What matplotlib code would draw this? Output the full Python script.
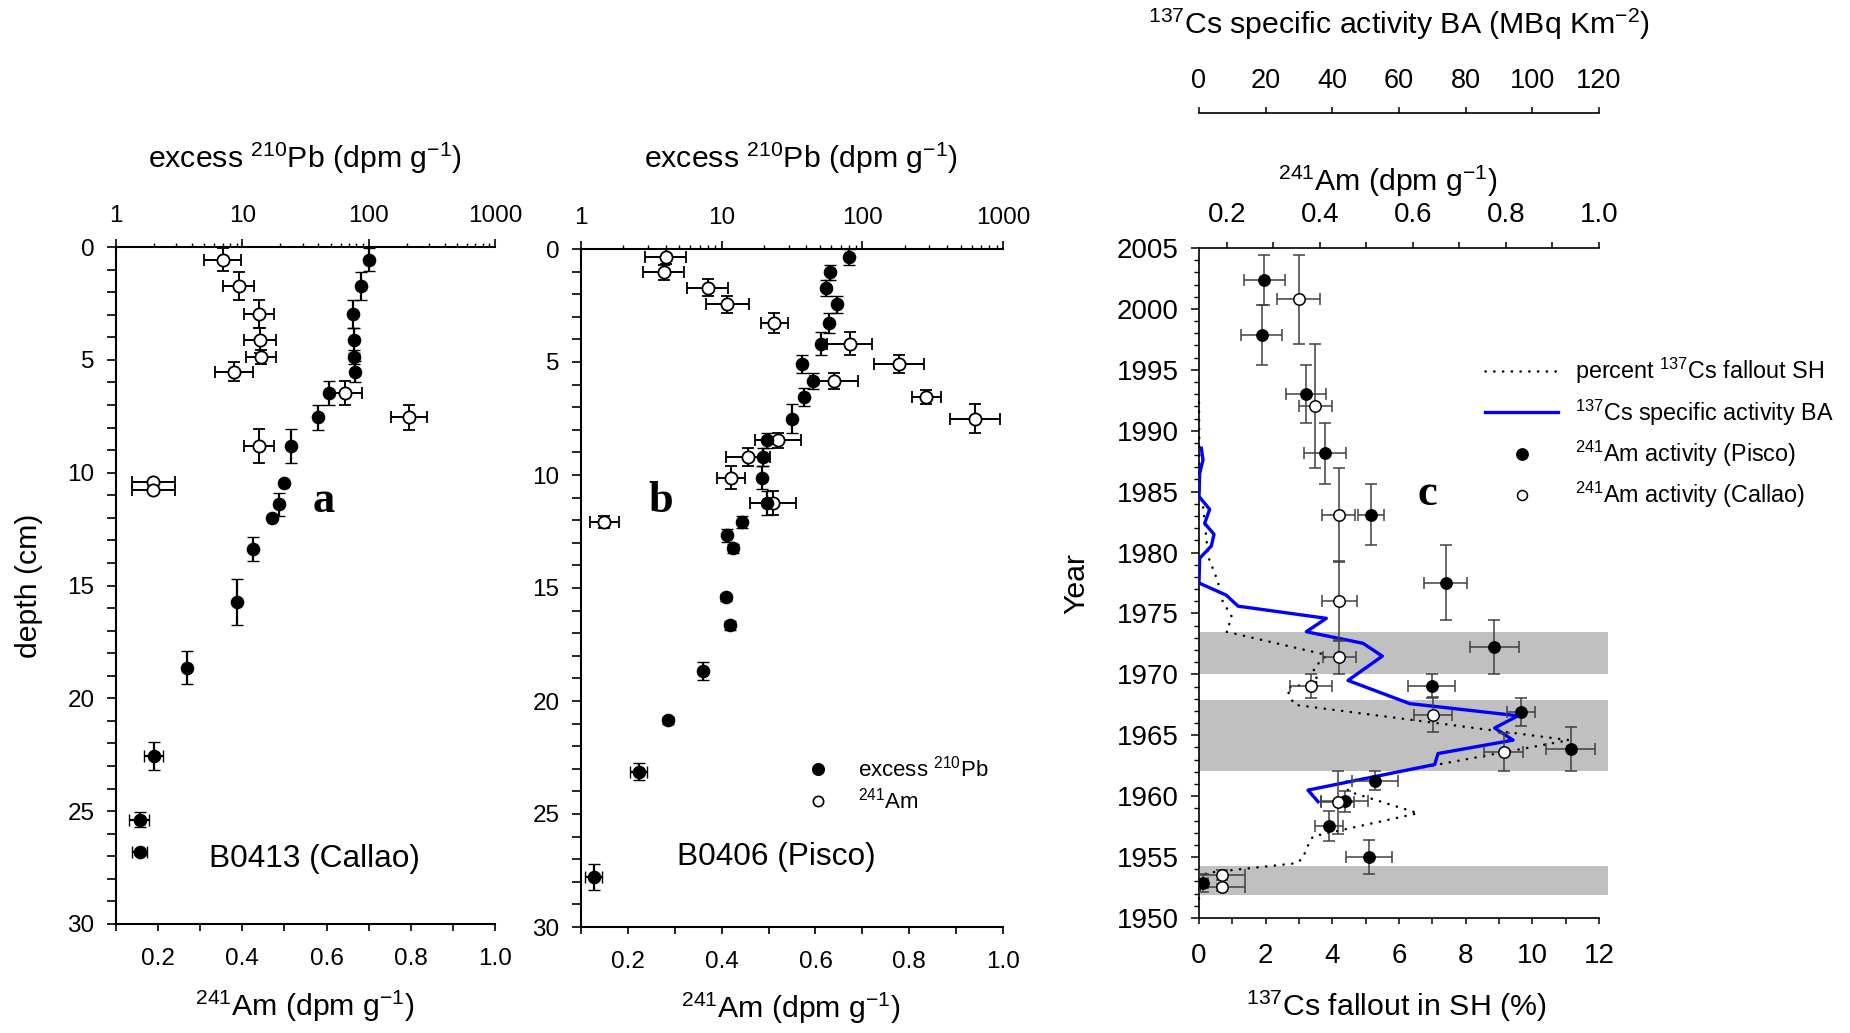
import matplotlib
matplotlib.use('Agg')
import matplotlib.pyplot as plt
from matplotlib.lines import Line2D
from matplotlib.ticker import MultipleLocator, LogLocator, NullFormatter, FixedLocator, FuncFormatter, FormatStrFormatter

plt.rcParams['font.family'] = ['Liberation Sans', 'DejaVu Sans']
plt.rcParams['mathtext.fontset'] = 'custom'
plt.rcParams['mathtext.rm'] = 'Liberation Sans'
plt.rcParams['mathtext.it'] = 'Liberation Sans:italic'
plt.rcParams['mathtext.bf'] = 'Liberation Sans:bold'

# ---------------- data: panel a (B0413, Callao) ----------------
pb_a_depth = [0.56, 1.74, 2.98, 4.13, 4.87, 5.52, 6.47, 7.55, 8.82, 10.48, 11.4, 12.0, 13.39, 15.73, 18.64, 22.55, 25.37, 26.83]
pb_a = [100, 87, 75.7, 77, 76, 78, 48.9, 40, 24.4, 21.2, 19.5, 17.1, 12.1, 9.1, 3.64, 2.01, 1.556, 1.55]
pb_a_derr = [0.52, 0.62, 0.62, 0.55, 0.3, 0.45, 0.52, 0.55, 0.74, 0.0, 0.5, 0.0, 0.53, 1.03, 0.72, 0.61, 0.34, 0.1]
pb_a_err = [0, 0, 0, 0, 0, 0, 0, 0, 0, 0, 0, 0, 0, 0, 0, 0.33, 0.28, 0.21]
am_a_depth = [0.56, 1.74, 2.98, 4.13, 4.87, 5.52, 6.47, 7.55, 8.82, 10.41, 10.78]
am_a = [0.354, 0.391, 0.44, 0.442, 0.444, 0.38, 0.643, 0.796, 0.44, 0.188, 0.188]
am_a_err = [0.044, 0.036, 0.036, 0.0375, 0.035, 0.045, 0.040, 0.042, 0.035, 0.051, 0.051]
am_a_derr = [0.52, 0.62, 0.62, 0.55, 0.3, 0.43, 0.52, 0.55, 0.74, 0.0, 0.0]

# ---------------- data: panel b (B0406, Pisco) ----------------
pb_b_depth = [0.35, 1.03, 1.71, 2.45, 3.27, 4.19, 5.07, 5.84, 6.55, 7.51, 8.47, 9.2, 10.12, 11.24, 12.07, 12.67, 13.25, 15.42, 16.65, 18.69, 20.86, 23.13, 27.8]
pb_b = [81, 59, 55, 66.5, 58.3, 50.7, 37.1, 44.5, 38.6, 31.8, 20.9, 19.8, 19.2, 20.9, 13.9, 10.9, 12.1, 10.7, 11.5, 7.41, 4.14, 2.59, 1.24]
pb_b_derr = [0.34, 0.33, 0.35, 0.38, 0.43, 0.5, 0.4, 0.37, 0.38, 0.63, 0.33, 0.4, 0.52, 0.55, 0.26, 0.3, 0.2, 0.15, 0.2, 0.4, 0.15, 0.37, 0.58]
pb_b_err = [0, 0, 0, 0, 0, 0, 0, 0, 0, 0, 0, 0, 0, 0, 0, 0, 0, 0, 0, 0, 0, 0.37, 0.18]
am_b_depth = [0.35, 1.03, 1.71, 2.45, 3.27, 4.19, 5.07, 5.84, 6.55, 7.51, 8.47, 9.2, 10.12, 11.24, 12.07]
am_b = [0.281, 0.276, 0.37, 0.412, 0.512, 0.673, 0.779, 0.64, 0.836, 0.941, 0.52, 0.456, 0.42, 0.509, 0.15]
am_b_err = [0.0435, 0.0446, 0.044, 0.0456, 0.029, 0.048, 0.0535, 0.051, 0.031, 0.053, 0.049, 0.047, 0.030, 0.0495, 0.030]
am_b_derr = [0.33, 0.33, 0.37, 0.37, 0.43, 0.5, 0.4, 0.37, 0.33, 0.63, 0.33, 0.4, 0.52, 0.55, 0.26]

# ---------------- data: panel c ----------------
pisco_year = [2002.38, 1997.87, 1993.0, 1988.15, 1983.11, 1977.53, 1972.27, 1969.07, 1966.91, 1963.87, 1961.27, 1959.6, 1957.55, 1954.98, 1952.85]
pisco_am = [0.28, 0.275, 0.37, 0.41, 0.51, 0.67, 0.775, 0.64, 0.833, 0.939, 0.519, 0.453, 0.419, 0.506, 0.149]
pisco_am_err = [0.044, 0.044, 0.044, 0.045, 0.028, 0.046, 0.052, 0.051, 0.030, 0.052, 0.049, 0.051, 0.030, 0.049, 0.01]
pisco_yr_err = [2.05, 2.49, 2.37, 2.49, 2.53, 3.05, 2.22, 1.0, 1.16, 1.83, 0.79, 0.86, 1.2, 1.4, 0.75]

callao_year = [2000.8, 1992.06, 1983.09, 1976.03, 1971.4, 1969.07, 1966.67, 1963.63, 1959.5, 1953.53, 1952.52]
callao_am = [0.354, 0.39, 0.44, 0.442, 0.442, 0.3815, 0.643, 0.795, 0.438, 0.189, 0.189]
callao_am_err = [0.046, 0.036, 0.036, 0.037, 0.035, 0.045, 0.040, 0.042, 0.036, 0.05, 0.05]
callao_yr_err = [3.65, 5.1, 3.83, 3.25, 1.37, 1.0, 1.44, 1.56, 2.6, 0.4, 0.3]

fall_year = [1992.3, 1985.0, 1983.8, 1981.2, 1979.7, 1977.6, 1976.2, 1974.7, 1973.5, 1971.6, 1971.2, 1970.6,
             1970.0, 1969.4, 1968.9, 1968.2, 1967.5, 1964.6, 1961.2, 1960.4, 1958.6, 1956.7, 1955.7, 1954.9,
             1954.5, 1953.7, 1952.85, 1951.6]
fall_pct = [0.0, 0.02, 0.12, 0.22, 0.27, 0.57, 0.67, 0.99, 0.82, 3.82, 3.72, 3.45,
            3.44, 3.62, 2.64, 2.72, 2.87, 11.1, 4.42, 4.47, 6.57, 3.42, 3.22, 3.12,
            2.92, 0.22, 0.04, 0.0]

ba_year = [1988.56, 1987.6, 1986.5, 1984.6, 1983.55, 1982.4, 1981.5, 1980.54, 1979.53, 1977.5, 1976.5, 1975.6,
           1974.6, 1973.5, 1972.55, 1971.5, 1969.5, 1967.6, 1966.6, 1965.6, 1964.6, 1963.5, 1962.6, 1960.5, 1959.55]
ba_act = [0.7, 1.2, 0.2, 0.0, 3.2, 1.7, 4.5, 3.7, 0.2, 0.0, 8.2, 11.7,
          38.2, 32.2, 49.2, 55.0, 44.7, 63.2, 95.7, 88.7, 94.2, 71.7, 70.7, 32.7, 35.7]

band_lo = [1970.0, 1962.07, 1951.86]
band_hi = [1973.45, 1967.9, 1954.3]

depth_ticks = [0, 5, 10, 15, 20, 25, 30]
year_ticks = [1950, 1955, 1960, 1965, 1970, 1975, 1980, 1985, 1990, 1995, 2000, 2005]

# ---------------- figure ----------------
W, H = 1850, 1033
fig = plt.figure(figsize=(W / 100, H / 100), dpi=100)


def box(l, t, r, b):
    return [l / W, 1 - b / H, (r - l) / W, (b - t) / H]


def ftext(x, y, s, **kw):
    fig.text(x / W, 1 - y / H, s, **kw)


TICK = 17.5
LAB = 21.8
SPW = 1.5


def depth_panel(rect, pb_d, pb, pb_derr, pb_err, am_d, am, am_derr, am_err):
    ax = fig.add_axes(rect)
    ax.set_xlim(0.1, 1.0)
    ax.set_ylim(30, 0)
    axt = ax.twiny()
    axt.set_xscale('log')
    axt.set_xlim(1, 1000)
    axt.set_ylim(30, 0)
    for a in (ax, axt):
        for s in a.spines.values():
            s.set_linewidth(SPW)
        a.spines['right'].set_visible(False)
    ax.spines['top'].set_visible(False)
    for s in ('bottom', 'left', 'right'):
        axt.spines[s].set_visible(False)
    ax.yaxis.set_major_locator(FixedLocator(depth_ticks))
    ax.yaxis.set_minor_locator(MultipleLocator(1))
    ax.xaxis.set_major_locator(FixedLocator([0.2, 0.4, 0.6, 0.8, 1.0]))
    ax.xaxis.set_major_formatter(FormatStrFormatter('%.1f'))
    ax.xaxis.set_minor_locator(FixedLocator([0.1, 0.3, 0.5, 0.7, 0.9]))
    ax.tick_params(axis='y', which='both', direction='out', length=6.5, width=1.2, labelsize=TICK, pad=9, right=False)
    ax.tick_params(axis='x', which='both', direction='out', length=5, width=1.2, labelsize=TICK, pad=12, top=False)
    axt.xaxis.set_major_locator(LogLocator(base=10, numticks=10))
    axt.xaxis.set_minor_locator(LogLocator(base=10, subs=range(2, 10), numticks=20))
    axt.xaxis.set_minor_formatter(NullFormatter())
    axt.xaxis.set_major_formatter(FuncFormatter(lambda v, p: f'{v:g}'))
    axt.tick_params(axis='x', which='major', direction='out', length=5.5, width=1.2, labelsize=TICK, pad=9)
    axt.tick_params(axis='x', which='minor', direction='out', length=3.2, width=1.0)
    ax.errorbar(am, am_d, xerr=am_err, yerr=am_derr, fmt='o', mfc='white', mec='black', ms=8.8, mew=1.3,
                ecolor='black', elinewidth=1.4, capsize=4, capthick=1.4, zorder=3)
    axt.errorbar(pb, pb_d, xerr=pb_err, yerr=pb_derr, fmt='o', mfc='black', mec='black', ms=8.8, mew=1.0,
                 ecolor='black', elinewidth=1.6, capsize=4, capthick=1.6, zorder=3)
    return ax, axt


axa, axat = depth_panel(box(116, 247, 495, 924), pb_a_depth, pb_a, pb_a_derr, pb_a_err,
                        am_a_depth, am_a, am_a_derr, am_a_err)
axb, axbt = depth_panel(box(581, 249, 1003, 927), pb_b_depth, pb_b, pb_b_derr, pb_b_err,
                        am_b_depth, am_b, am_b_derr, am_b_err)

pb_title = r'excess $^{210}$Pb (dpm g$^{-1}$)'
am_title = r'$^{241}$Am (dpm g$^{-1}$)'
ftext(305, 158, pb_title, ha='center', va='center', fontsize=LAB)
ftext(801, 158, pb_title, ha='center', va='center', fontsize=LAB)
ftext(305, 1006, am_title, ha='center', va='center', fontsize=LAB)
ftext(791, 1008, am_title, ha='center', va='center', fontsize=LAB)
ftext(29, 586, 'depth (cm)', ha='center', va='center', rotation=90, fontsize=LAB)
ftext(324, 512, 'a', ha='center', va='baseline', fontsize=32, fontweight='bold', family='Liberation Serif')
ftext(661, 512, 'b', ha='center', va='baseline', fontsize=32, fontweight='bold', family='Liberation Serif')
ftext(314, 859, 'B0413 (Callao)', ha='center', va='center', fontsize=22.8)
ftext(776, 857, 'B0406 (Pisco)', ha='center', va='center', fontsize=22.8)

leg_b = [Line2D([], [], ls='none', marker='o', mfc='black', mec='black', ms=8.4),
         Line2D([], [], ls='none', marker='o', mfc='white', mec='black', ms=7.4, mew=1.2)]
axbt.legend(leg_b, [r'excess $^{210}$Pb', r'$^{241}$Am'], loc='upper left',
            bbox_to_anchor=(796 / W, 1 - 756 / H), bbox_transform=fig.transFigure, frameon=False,
            fontsize=16, handlelength=2.0, handletextpad=0.8, labelspacing=0.25, borderpad=0, borderaxespad=0)

# ---------------- panel c ----------------
TICKC = 20
axc = fig.add_axes(box(1199, 248, 1599, 918))
axc.set_xlim(0, 12)
axc.set_ylim(1950, 2005)
ax_ba = axc.twiny()
ax_ba.set_xlim(0, 120)
ax_am = axc.twiny()
ax_am.set_xlim(0.14, 1.0)

for a in (axc, ax_ba, ax_am):
    for s in a.spines.values():
        s.set_linewidth(1.2)
axc.spines['top'].set_visible(False)
axc.spines['right'].set_visible(False)
for s in ('bottom', 'left', 'right'):
    ax_am.spines[s].set_visible(False)
    ax_ba.spines[s].set_visible(False)
ax_ba.spines['top'].set_position(('outward', 135 * 0.72))

axc.yaxis.set_major_locator(FixedLocator(year_ticks))
axc.yaxis.set_minor_locator(MultipleLocator(1))
axc.yaxis.set_major_formatter(FormatStrFormatter('%d'))
axc.xaxis.set_major_locator(MultipleLocator(2))
axc.xaxis.set_minor_locator(MultipleLocator(1))
axc.tick_params(axis='y', which='major', direction='out', length=5.8, width=1.1, labelsize=TICKC, pad=9, right=False)
axc.tick_params(axis='y', which='minor', direction='out', length=3.6, width=1.0, right=False)
axc.tick_params(axis='x', which='both', direction='out', length=4, width=1.1, labelsize=TICKC, pad=14, top=False)
ax_am.xaxis.set_major_locator(FixedLocator([0.2, 0.4, 0.6, 0.8, 1.0]))
ax_am.xaxis.set_major_formatter(FormatStrFormatter('%.1f'))
ax_am.xaxis.set_minor_locator(FixedLocator([0.3, 0.5, 0.7, 0.9]))
ax_am.tick_params(axis='x', which='both', direction='out', length=4.5, width=1.1, labelsize=TICKC, pad=10)
ax_ba.xaxis.set_major_locator(MultipleLocator(20))
ax_ba.tick_params(axis='x', which='both', direction='out', length=4.5, width=1.1, labelsize=19.5, pad=9)

for lo, hi in zip(band_lo, band_hi):
    axc.fill_betweenx([lo, hi], 0, 12.28, color='#c0c0c0', lw=0, clip_on=False, zorder=0.5)

axc.plot(fall_pct, fall_year, color='black', lw=1.8, ls=(0, (0.1, 3.4)), dash_capstyle='round',
         clip_on=False, zorder=2)
ax_ba.plot(ba_act, ba_year, color='#0000ff', lw=2.4, zorder=2)
ax_am.errorbar(pisco_am, pisco_year, xerr=pisco_am_err, yerr=pisco_yr_err, fmt='o', mfc='black', mec='black',
               ms=8.2, ecolor='#404040', elinewidth=1.1, capsize=4, capthick=1.1, zorder=3)
ax_am.errorbar(callao_am, callao_year, xerr=callao_am_err, yerr=callao_yr_err, fmt='o', mfc='white',
               mec='black', ms=8.2, mew=1.1, ecolor='#404040', elinewidth=1.1, capsize=4, capthick=1.1, zorder=3)

ftext(1399, 24, r'$^{137}$Cs specific activity BA (MBq Km$^{-2}$)', ha='center', va='center', fontsize=LAB)
ftext(1388, 181, am_title, ha='center', va='center', fontsize=LAB)
ftext(1396, 1006, r'$^{137}$Cs fallout in SH (%)', ha='center', va='center', fontsize=LAB)
ftext(1076, 584, 'Year', ha='center', va='center', rotation=90, fontsize=LAB)
ftext(1427, 505, 'c', ha='center', va='baseline', fontsize=32, fontweight='bold', family='Liberation Serif')

leg_c = [Line2D([], [], color='black', lw=1.8, ls=(0, (0.1, 3.4)), dash_capstyle='round'),
         Line2D([], [], color='#0000ff', lw=2.4),
         Line2D([], [], ls='none', marker='o', mfc='black', mec='black', ms=8.2),
         Line2D([], [], ls='none', marker='o', mfc='white', mec='black', ms=7.2, mew=1.1)]
ax_am.legend(leg_c, [r'percent $^{137}$Cs fallout SH', r'$^{137}$Cs specific activity BA',
                     r'$^{241}$Am activity (Pisco)', r'$^{241}$Am activity (Callao)'],
             loc='upper left', bbox_to_anchor=(1485 / W, 1 - 356 / H), bbox_transform=fig.transFigure,
             frameon=False, fontsize=16.8, handlelength=3.13, handletextpad=0.73, labelspacing=0.48,
             borderpad=0, borderaxespad=0)

fig.savefig('out.png', dpi=100)
